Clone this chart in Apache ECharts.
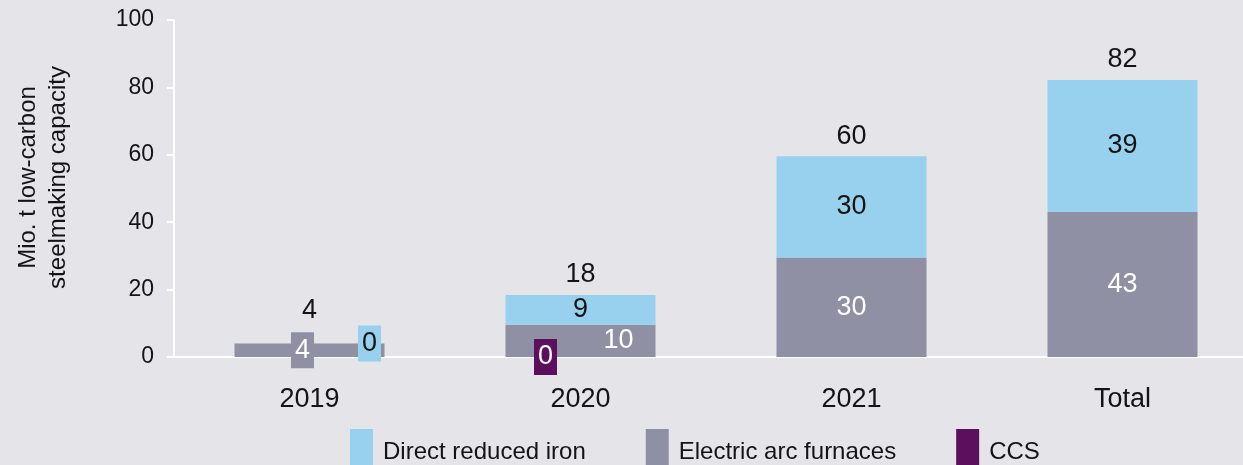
<!DOCTYPE html>
<html><head><meta charset="utf-8">
<script src="https://cdn.jsdelivr.net/npm/echarts@6/dist/echarts.min.js"></script>
<style>html,body{margin:0;padding:0;background:#e4e4e9;overflow:hidden;width:1243px;height:465px;}#c{width:1262px;height:465px;}</style>
</head><body><div id="c"></div>
<script>
const categories = ['2019', '2020', '2021', 'Total'];
const ccs = [0, 0, 0, 0];
const eaf = [4, 9.6, 29.5, 43];
const dri = [0, 8.8, 30.1, 39.2];
const totals = [4, 18, 60, 82];
const eafLabels = [4, 10, 30, 43];
const driLabels = [0, 9, 30, 39];
const ccsLabels = [0, 0, 0, 0];
const yTicks = [0, 20, 40, 60, 80, 100];

const C_DRI = '#98d1ee', C_EAF = '#8f90a4', C_CCS = '#5b0f5d';
const FONT = 'Liberation Sans, Arial, sans-serif';
const TXT = '#141414';

const chart = echarts.init(document.getElementById('c'));
const lbl = (extra) => Object.assign({show: true, position: 'inside', fontSize: 27, lineHeight: 28, fontFamily: FONT, padding: [4, 4]}, extra);

chart.setOption({
  backgroundColor: '#e4e4e9',
  animation: false,
  textStyle: {fontFamily: FONT},
  grid: {left: 174, top: 20, width: 1084, height: 337},
  legend: {
    left: 350, top: 429, padding: 0,
    icon: 'rect',
    itemWidth: 23, itemHeight: 46, itemGap: 60,
    data: ['Direct reduced iron', 'Electric arc furnaces', 'CCS'],
    textStyle: {fontSize: 24, color: TXT, fontFamily: FONT, padding: [0, 0, 0, 5]}
  },
  xAxis: {
    type: 'category', data: categories,
    axisLine: {lineStyle: {color: '#ffffff', width: 2}},
    axisTick: {show: false},
    axisLabel: {fontSize: 27, color: TXT, margin: 29, fontFamily: FONT}
  },
  yAxis: {
    type: 'value', min: 0, max: 100, interval: 20,
    name: 'Mio. t low-carbon\nsteelmaking capacity',
    nameLocation: 'middle', nameRotate: 90, nameGap: 101,
    nameTextStyle: {fontSize: 24, color: TXT, lineHeight: 30, fontFamily: FONT, padding: [0, 0, 0, 22]},
    axisLine: {show: true, lineStyle: {color: '#ffffff', width: 2}},
    axisTick: {show: true, length: 7, lineStyle: {color: '#ffffff', width: 2}},
    axisLabel: {fontSize: 23, color: TXT, margin: 20, fontFamily: FONT,
      formatter: v => yTicks.includes(v) ? String(v) : ''},
    splitLine: {show: false}
  },
  series: [
    {
      name: 'CCS', type: 'bar', stack: 's', barWidth: 150, itemStyle: {color: C_CCS},
      data: ccs.map((v, i) => ({
        value: v,
        label: i === 1 ? lbl({color: '#fff', backgroundColor: C_CCS, offset: [-35, 0], formatter: () => String(ccsLabels[i])}) : {show: false}
      }))
    },
    {
      name: 'Electric arc furnaces', type: 'bar', stack: 's', barWidth: 150, itemStyle: {color: C_EAF},
      data: eaf.map((v, i) => ({
        value: v,
        label: lbl({color: '#fff', backgroundColor: i === 0 ? C_EAF : 'transparent',
          offset: i === 1 ? [38, 0] : (i === 0 ? [-7, 0] : [0, 0]), formatter: () => String(eafLabels[i])})
      }))
    },
    {
      name: 'Direct reduced iron', type: 'bar', stack: 's', barWidth: 150, itemStyle: {color: C_DRI},
      data: dri.map((v, i) => ({
        value: v,
        label: lbl({color: TXT, backgroundColor: i === 0 ? C_DRI : 'transparent',
          offset: i === 0 ? [60, 0] : [0, 0], formatter: () => String(driLabels[i])})
      }))
    },
    {
      name: 'total', type: 'scatter', symbolSize: 1, silent: true,
      itemStyle: {opacity: 1, color: 'rgba(0,0,0,0)'},
      data: totals.map((t, i) => ({
        value: ccs[i] + eaf[i] + dri[i],
        label: {show: true, position: 'top', distance: 6, fontSize: 27, color: TXT, fontFamily: FONT,
          offset: i === 0 ? [0, -13] : [0, 0], formatter: () => String(t)}
      }))
    }
  ]
});
</script></body></html>
